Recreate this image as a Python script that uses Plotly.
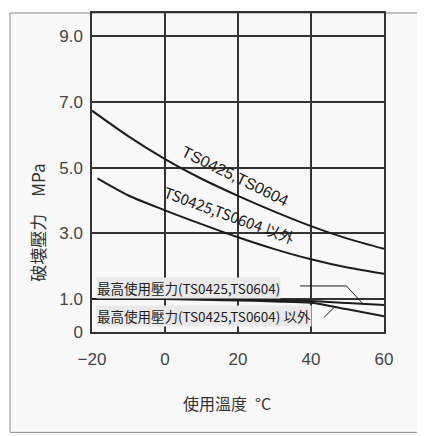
import plotly.graph_objects as go

# ---- data ----
temp_a = [-20, -10, 0, 10, 20, 30, 40, 50, 60]
burst_ts = [6.73, 5.95, 5.26, 4.66, 4.14, 3.66, 3.22, 2.84, 2.53]

temp_b = [-18.5, -10, 0, 10, 20, 30, 40, 50, 60]
burst_other = [4.67, 4.15, 3.70, 3.28, 2.88, 2.52, 2.21, 1.96, 1.77]

temp_m = [-20, 0, 20, 30, 40, 50, 60]
maxp_ts = [1.0, 1.0, 1.0, 0.97, 0.94, 0.88, 0.82]

temp_n = [-20, 0, 20, 30, 40, 50, 60]
maxp_other = [1.0, 1.0, 0.96, 0.93, 0.89, 0.69, 0.48]

x_ticks = [-20, 0, 20, 40, 60]
y_ticks = [0, 1, 3, 5, 7, 9]
y_ticktext = ["0", "1.0", "3.0", "5.0", "7.0", "9.0"]

label_ts = "TS0425,TS0604"
label_other = "TS0425,TS0604 以外"
label_maxp_ts = "最高使用壓力(TS0425,TS0604)"
label_maxp_other = "最高使用壓力(TS0425,TS0604) 以外"
x_title = "使用溫度\u2002°C"
y_title = "破壊壓力\u3000MPa"

# leader lines for the two lower labels (data coords)
leader_ts_x = [37.0, 49.7, 54.2]
leader_ts_y = [1.40, 1.40, 0.86]
leader_other_x = [43.6, 46.3]
leader_other_y = [0.45, 0.74]

# ---- styles ----
INK = "#1c1c1c"
GRID = "#333333"
PLOT_BG = "#e9e9e9"
CJK = "Noto Sans CJK JP"
LAT = "Liberation Sans, Arial, sans-serif"

fig = go.Figure()
for xs, ys in [(temp_a, burst_ts), (temp_b, burst_other),
               (temp_m, maxp_ts), (temp_n, maxp_other)]:
    fig.add_trace(go.Scatter(x=xs, y=ys, mode="lines",
                             line=dict(color=INK, width=2, shape="spline", smoothing=0.8),
                             hoverinfo="skip", showlegend=False))

for xs, ys in [(leader_ts_x, leader_ts_y), (leader_other_x, leader_other_y)]:
    fig.add_trace(go.Scatter(x=xs, y=ys, mode="lines",
                             line=dict(color=INK, width=1),
                             hoverinfo="skip", showlegend=False))

annotations = [
    dict(x=19.4, y=4.74, xref="x", yref="y", text=label_ts, showarrow=False,
         xanchor="center", yanchor="middle",
         textangle=26, font=dict(family=LAT, size=16, color=INK)),
    dict(x=17.6, y=3.58, xref="x", yref="y", text=label_other, showarrow=False,
         xanchor="center", yanchor="middle",
         textangle=20, font=dict(family=CJK, size=15, color=INK)),
    dict(x=-18.9, y=1.33, xref="x", yref="y", text=label_maxp_ts, showarrow=False,
         xanchor="left", yanchor="middle", bgcolor=PLOT_BG, borderpad=0,
         font=dict(family=CJK, size=13.5, color=INK)),
    dict(x=-18.9, y=0.50, xref="x", yref="y", text=label_maxp_other, showarrow=False,
         xanchor="left", yanchor="middle", bgcolor=PLOT_BG, borderpad=0,
         font=dict(family=CJK, size=13.5, color=INK)),
    # axis titles
    dict(x=(227 - 92) / 292, y=(332 - 403) / 321, xref="paper", yref="paper",
         xanchor="center", yanchor="middle",
         text=x_title, showarrow=False, font=dict(family=CJK, size=16, color="#333")),
    dict(x=(38 - 92) / 292, y=(332 - 222) / 321, xref="paper", yref="paper",
         xanchor="center", yanchor="middle",
         text=y_title, showarrow=False, textangle=-90,
         font=dict(family=CJK, size=17, color="#333")),
]

shapes = [
    dict(type="rect", xref="paper", yref="paper",
         x0=(10 - 92) / 292, x1=(421 - 92) / 292,
         y0=(332 - 433) / 321, y1=1.0,
         line=dict(color="#8a8a8a", width=1), fillcolor="#f8f8f8", layer="below"),
]

# page body has an 8px margin, so the figure is sized/offset to compensate
fig.update_layout(
    width=417, height=428, autosize=False,
    margin=dict(l=84, r=41, t=3, b=104),
    paper_bgcolor="white", plot_bgcolor=PLOT_BG,
    annotations=annotations, shapes=shapes,
    xaxis=dict(range=[-20, 60], tickvals=x_ticks, showgrid=True,
               gridcolor=GRID, gridwidth=1.5, zeroline=False,
               showline=True, mirror=True, linecolor=GRID, linewidth=1.5,
               ticks="", ticklabelstandoff=11,
               tickfont=dict(family=LAT, size=17, color="#444")),
    yaxis=dict(range=[0, 9.7], tickvals=y_ticks, ticktext=y_ticktext,
               showgrid=True, gridcolor=GRID, gridwidth=1.5, zeroline=False,
               showline=True, mirror=True, linecolor=GRID, linewidth=1.5,
               ticks="", ticklabelstandoff=4,
               tickfont=dict(family=LAT, size=17, color="#444")),
)

fig.write_html("out.html")
